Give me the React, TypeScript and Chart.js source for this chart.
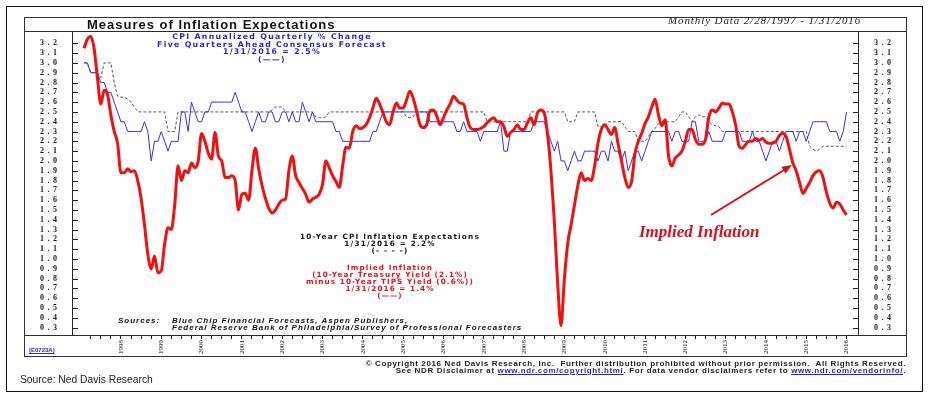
import React, { useEffect, useRef } from "react";
import { Chart, registerables } from "chart.js";

Chart.register(...registerables);

// Monthly observations, index 0 = 2/28/1997 ... index 227 = 1/31/2016
const START_LABEL = "2/28/1997";
const END_LABEL = "1/31/2016";

const yearLabels = [
  "1998", "1999", "2000", "2001", "2002", "2003", "2004", "2005", "2006", "2007",
  "2008", "2009", "2010", "2011", "2012", "2013", "2014", "2015", "2016",
];
const FIRST_JAN_INDEX = 11; // Jan 1998 in month index

const yTickLabels = [
  0.3, 0.4, 0.5, 0.6, 0.7, 0.8, 0.9, 1.0, 1.1, 1.2, 1.3, 1.4, 1.5, 1.6, 1.7,
  1.8, 1.9, 2.0, 2.1, 2.2, 2.3, 2.4, 2.5, 2.6, 2.7, 2.8, 2.9, 3.0, 3.1, 3.2,
];

// Implied inflation (10y Treasury minus 10y TIPS)
const impliedInflation = [
  3.15, 3.24, 3.27, 3.15, 2.85, 2.58, 2.72, 2.68, 2.47, 2.30,
  2.18, 1.88, 1.88, 1.92, 1.89, 1.90, 1.80, 1.62, 1.35, 1.05,
  0.90, 1.03, 0.86, 0.88, 1.15, 1.32, 1.30, 1.55, 1.95, 1.80,
  1.90, 1.88, 1.98, 1.93, 2.00, 2.28, 2.20, 2.08, 2.02, 2.29,
  2.05, 2.00, 1.83, 1.83, 1.85, 1.80, 1.50, 1.66, 1.67, 1.60,
  1.90, 2.13, 1.92, 1.75, 1.62, 1.52, 1.47, 1.50, 1.56, 1.60,
  1.61, 1.90, 2.05, 1.85, 1.78, 1.72, 1.66, 1.58, 1.61, 1.63,
  1.66, 1.76, 2.00, 1.93, 1.85, 1.79, 1.73, 1.95, 2.14, 2.13,
  2.30, 2.36, 2.33, 2.34, 2.37, 2.44, 2.54, 2.64, 2.58, 2.49,
  2.40, 2.37, 2.50, 2.59, 2.54, 2.54, 2.62, 2.71, 2.64, 2.51,
  2.37, 2.34, 2.37, 2.51, 2.52, 2.46, 2.37, 2.44, 2.52, 2.58,
  2.66, 2.62, 2.59, 2.58, 2.44, 2.34, 2.32, 2.32, 2.33, 2.35,
  2.39, 2.42, 2.44, 2.40, 2.40, 2.35, 2.25, 2.29, 2.32, 2.37,
  2.32, 2.32, 2.39, 2.44, 2.37, 2.49, 2.52, 2.49, 2.27, 1.90,
  1.39, 0.75, 0.32, 0.80, 1.16, 1.35, 1.55, 1.75, 1.88, 1.80,
  1.82, 1.80, 1.95, 2.18, 2.32, 2.37, 2.32, 2.27, 2.34, 2.17,
  2.00, 1.83, 1.73, 1.79, 2.07, 2.20, 2.28, 2.38, 2.45, 2.55,
  2.63, 2.47, 2.36, 2.42, 2.05, 1.95, 2.03, 2.06, 2.10, 2.20,
  2.32, 2.32, 2.22, 2.17, 2.17, 2.22, 2.45, 2.52, 2.50, 2.54,
  2.59, 2.58, 2.58, 2.50, 2.36, 2.15, 2.13, 2.17, 2.20, 2.20,
  2.23, 2.21, 2.23, 2.19, 2.18, 2.18, 2.20, 2.26, 2.28, 2.25,
  2.12, 1.98, 1.90, 1.78, 1.67, 1.72, 1.78, 1.85, 1.89, 1.90,
  1.83, 1.68, 1.57, 1.52, 1.58, 1.56, 1.50, 1.45,
];

// CPI annualized quarterly % change, five quarters ahead consensus forecast
const cpiForecast = [
  3.0, 3.0, 2.9, 2.9, 2.9, 2.8, 2.8, 2.7, 2.7, 2.6,
  2.5, 2.4, 2.4, 2.3, 2.3, 2.3, 2.3, 2.3, 2.4, 2.3,
  2.0, 2.2, 2.2, 2.3, 2.2, 2.1, 2.2, 2.2, 2.2, 2.5,
  2.5, 2.3, 2.6, 2.5, 2.4, 2.4, 2.5, 2.5, 2.6, 2.6,
  2.6, 2.6, 2.6, 2.6, 2.6, 2.7, 2.6, 2.5, 2.5, 2.4,
  2.3, 2.4, 2.5, 2.4, 2.4, 2.5, 2.5, 2.4, 2.4, 2.5,
  2.5, 2.4, 2.5, 2.4, 2.4, 2.6, 2.5, 2.4, 2.5, 2.4,
  2.4, 2.4, 2.4, 2.4, 2.4, 2.3, 2.3, 2.2, 2.2, 2.2,
  2.2, 2.2, 2.2, 2.2, 2.2, 2.2, 2.3, 2.3, 2.4, 2.5,
  2.5, 2.5, 2.5, 2.5, 2.5, 2.5, 2.5, 2.5, 2.5, 2.5,
  2.5, 2.5, 2.5, 2.4, 2.4, 2.4, 2.4, 2.4, 2.4, 2.4,
  2.4, 2.3, 2.3, 2.4, 2.3, 2.3, 2.3, 2.3, 2.2, 2.3,
  2.3, 2.3, 2.3, 2.3, 2.4, 2.1, 2.1, 2.3, 2.3, 2.3,
  2.3, 2.3, 2.3, 2.3, 2.4, 2.4, 2.4, 2.4, 2.3, 2.2,
  2.1, 2.2, 2.0, 2.0, 1.9, 2.0, 2.1, 2.0, 2.0, 2.1,
  2.1, 2.1, 2.1, 2.0, 2.1, 2.1, 2.0, 2.2, 2.1, 2.1,
  2.0, 2.1, 1.9, 2.0, 2.1, 2.1, 2.0, 2.1, 2.2, 2.3,
  2.3, 2.3, 2.3, 2.3, 2.3, 2.2, 2.3, 2.3, 2.2, 2.2,
  2.2, 2.4, 2.4, 2.2, 2.2, 2.2, 2.3, 2.2, 2.2, 2.2,
  2.2, 2.3, 2.3, 2.3, 2.3, 2.3, 2.2, 2.2, 2.2, 2.3,
  2.2, 2.2, 2.1, 2.0, 2.1, 2.2, 2.2, 2.1, 2.2, 2.3,
  2.3, 2.3, 2.2, 2.3, 2.3, 2.2, 2.3, 2.4, 2.4, 2.4,
  2.4, 2.4, 2.3, 2.3, 2.3, 2.2, 2.3, 2.5,
];

// 10-year CPI inflation expectations
const tenYearCpiExpect = [
  3.0, 3.0, 2.9, 2.9, 2.9, 2.85, 3.0, 3.0, 3.0, 2.8,
  2.66, 2.65, 2.65, 2.63, 2.6, 2.55, 2.5, 2.5, 2.5, 2.5,
  2.5, 2.5, 2.5, 2.5, 2.5, 2.3, 2.3, 2.3, 2.5, 2.5,
  2.5, 2.5, 2.5, 2.5, 2.5, 2.5, 2.5, 2.5, 2.5, 2.5,
  2.5, 2.5, 2.5, 2.5, 2.5, 2.5, 2.5, 2.5, 2.5, 2.5,
  2.5, 2.5, 2.5, 2.5, 2.5, 2.5, 2.52, 2.55, 2.55, 2.55,
  2.5, 2.5, 2.5, 2.5, 2.5, 2.5, 2.5, 2.5, 2.5, 2.45,
  2.44, 2.44, 2.45, 2.5, 2.5, 2.5, 2.5, 2.5, 2.5, 2.5,
  2.5, 2.5, 2.5, 2.5, 2.5, 2.5, 2.5, 2.5, 2.5, 2.5,
  2.5, 2.5, 2.5, 2.5, 2.5, 2.5, 2.45, 2.44, 2.45, 2.5,
  2.5, 2.5, 2.5, 2.5, 2.5, 2.5, 2.5, 2.5, 2.5, 2.5,
  2.5, 2.5, 2.5, 2.5, 2.5, 2.5, 2.5, 2.5, 2.5, 2.5,
  2.4, 2.4, 2.4, 2.4, 2.4, 2.4, 2.4, 2.4, 2.4, 2.4,
  2.4, 2.4, 2.4, 2.5, 2.5, 2.5, 2.5, 2.5, 2.5, 2.5,
  2.5, 2.5, 2.5, 2.5, 2.4, 2.4, 2.4, 2.5, 2.5, 2.5,
  2.5, 2.5, 2.5, 2.35, 2.35, 2.35, 2.4, 2.4, 2.4, 2.4,
  2.4, 2.35, 2.3, 2.3, 2.3, 2.2, 2.2, 2.2, 2.25, 2.3,
  2.33, 2.38, 2.4, 2.4, 2.4, 2.4, 2.4, 2.45, 2.5, 2.5,
  2.45, 2.4, 2.45, 2.47, 2.45, 2.45, 2.4, 2.37, 2.36, 2.35,
  2.3, 2.3, 2.3, 2.3, 2.3, 2.3, 2.3, 2.3, 2.3, 2.3,
  2.3, 2.3, 2.3, 2.3, 2.3, 2.3, 2.3, 2.3, 2.3, 2.3,
  2.3, 2.3, 2.3, 2.3, 2.3, 2.3, 2.15, 2.12, 2.1, 2.12,
  2.15, 2.15, 2.15, 2.15, 2.15, 2.15, 2.15, 2.15,
];

const X_MIN = -3.27;
const X_MAX = 230.4;
const Y_MIN = 0.225;
const Y_MAX = 3.315;

const SANS = '"Liberation Sans", Arial, sans-serif';
const WIDE = '"DejaVu Sans", Verdana, sans-serif';
const SERIF = '"Liberation Serif", "Times New Roman", serif';

const BLUE_TXT = "#2a1fd2";
const RED_TXT = "#e5101c";

const quarterTicks: number[] = [];
for (let i = 2; i <= 227; i += 3) quarterTicks.push(i);

const innerTicks = {
  id: "innerTicks",
  afterDraw(chart: any) {
    const { ctx, chartArea: a, scales } = chart;
    const ys = scales.y;
    ctx.save();
    ctx.strokeStyle = "#222";
    ctx.lineWidth = 1;
    ctx.beginPath();
    ys.ticks.forEach((t: any) => {
      const py = Math.round(ys.getPixelForValue(t.value)) + 0.5;
      ctx.moveTo(a.left, py);
      ctx.lineTo(a.left + 5, py);
      ctx.moveTo(a.right - 5, py);
      ctx.lineTo(a.right, py);
    });
    ctx.stroke();
    ctx.restore();
  },
};

function spacedLabels(s: any, spacing: string) {
  if (s.__spaced) return;
  s.__spaced = true;
  const orig = s.drawLabels.bind(s);
  s.drawLabels = (area: any) => {
    const ctx = s.ctx;
    const prev = ctx.letterSpacing;
    ctx.letterSpacing = spacing;
    orig(area);
    ctx.letterSpacing = prev || "0px";
  };
}

function Txt(props: { style: React.CSSProperties; children: React.ReactNode }) {
  return (
    <div style={{ position: "absolute", whiteSpace: "pre", ...props.style }}>
      {props.children}
    </div>
  );
}

function Line(props: { x: number; y: number; w: number; h: number; c?: string }) {
  return (
    <div
      style={{
        position: "absolute",
        left: props.x,
        top: props.y,
        width: props.w,
        height: props.h,
        background: props.c || "#2a2a2a",
      }}
    />
  );
}

export default function App() {
  const ref = useRef<HTMLCanvasElement>(null);

  useEffect(() => {
    if (!ref.current) return;
    const toPts = (arr: number[]) => arr.map((v, i) => ({ x: i, y: v }));
    const yAxisCommon = (position: "left" | "right", pad: number) => ({
      type: "linear" as const,
      position,
      min: Y_MIN,
      max: Y_MAX,
      bounds: "data" as const,
      afterBuildTicks: (s: any) => {
        s.ticks = yTickLabels.map((v) => ({ value: v }));
        spacedLabels(s, "3.5px");
      },
      afterFit: (s: any) => {
        s.width = 49;
      },
      grid: { display: false, drawTicks: false },
      border: { display: false },
      ticks: {
        autoSkip: false,
        padding: pad,
        color: "#1a1a1a",
        font: { family: SERIF, size: 8, weight: "bold" as const },
        callback: (v: any) => Number(v).toFixed(1),
      },
    });

    const chart = new Chart(ref.current, {
      type: "line",
      data: {
        datasets: [
          {
            label: "Implied Inflation",
            data: toPts(impliedInflation),
            borderColor: "#f01010",
            borderWidth: 3,
            pointRadius: 0,
            cubicInterpolationMode: "monotone",
            yAxisID: "y",
          },
          {
            label: "CPI Forecast",
            data: toPts(cpiForecast),
            borderColor: "#3a2ee0",
            borderWidth: 1,
            pointRadius: 0,
            tension: 0,
            yAxisID: "y",
          },
          {
            label: "10-Year CPI Inflation Expectations",
            data: toPts(tenYearCpiExpect),
            borderColor: "#555555",
            borderWidth: 1,
            borderDash: [3, 2],
            pointRadius: 0,
            tension: 0,
            yAxisID: "y",
          },
        ],
      },
      options: {
        animation: false,
        responsive: false,
        devicePixelRatio: 1,
        layout: { padding: { left: 24, right: 23, top: 32, bottom: 42 } },
        plugins: { legend: { display: false }, tooltip: { enabled: false } },
        scales: {
          x: {
            type: "linear",
            min: X_MIN,
            max: X_MAX,
            bounds: "data",
            afterBuildTicks: (s: any) => {
              s.ticks = quarterTicks.map((v) => ({ value: v }));
            },
            afterFit: (s: any) => {
              s.height = 21;
            },
            grid: { drawOnChartArea: false, drawTicks: true, tickLength: 4, color: "#222" },
            border: { display: false },
            ticks: {
              autoSkip: false,
              maxRotation: 90,
              minRotation: 90,
              padding: 1,
              color: "#111",
              font: { family: SERIF, size: 7 },
              callback: (v: any) => {
                const i = Number(v);
                if ((i - FIRST_JAN_INDEX) % 12 === 0) {
                  return yearLabels[(i - FIRST_JAN_INDEX) / 12] || "";
                }
                return "";
              },
            },
          },
          y: yAxisCommon("left", 12.5) as any,
          y2: yAxisCommon("right", 16) as any,
        },
      },
      plugins: [innerTicks],
    });
    return () => chart.destroy();
  }, []);

  const block = (size: number, color: string, ls: number): React.CSSProperties => ({
    fontFamily: WIDE,
    fontWeight: "bold",
    fontSize: size,
    color,
    letterSpacing: ls,
    textAlign: "center",
  });

  const srcStyle: React.CSSProperties = {
    fontFamily: SANS,
    fontWeight: "bold",
    fontStyle: "italic",
    fontSize: 8,
    lineHeight: "7px",
    letterSpacing: 1.0,
    color: "#111",
  };

  const footStyle: React.CSSProperties = {
    right: 24,
    fontFamily: SANS,
    fontWeight: "bold",
    fontSize: 8,
    lineHeight: "7px",
    letterSpacing: 0.63,
    color: "#222",
    textAlign: "right",
  };

  return (
    <div
      style={{
        position: "fixed",
        left: 0,
        top: 0,
        width: 930,
        height: 398,
        background: "#fff",
        overflow: "hidden",
      }}
    >
      <canvas
        ref={ref}
        width={930}
        height={398}
        style={{ position: "absolute", left: 0, top: 0, width: 930, height: 398 }}
      />
      {/* frames */}
      <div
        style={{
          position: "absolute",
          left: 6,
          top: 6,
          width: 917,
          height: 386,
          border: "1.5px solid #111",
          boxSizing: "border-box",
        }}
      />
      <div
        style={{
          position: "absolute",
          left: 24,
          top: 17,
          width: 883,
          height: 340,
          border: "1px solid #333",
          boxSizing: "border-box",
        }}
      />
      <Line x={24} y={31} w={883} h={1} />
      <Line x={24} y={335} w={883} h={1} />
      <Line x={72} y={31} w={1} h={305} />
      <Line x={858} y={31} w={1} h={305} />

      {/* title */}
      <Txt
        style={{
          left: 87,
          top: 18,
          fontFamily: SANS,
          fontWeight: "bold",
          fontSize: 13,
          lineHeight: "14px",
          letterSpacing: 1.0,
          color: "#111",
        }}
      >
        Measures of Inflation Expectations
      </Txt>
      <Txt
        style={{
          left: 668,
          top: 13,
          fontFamily: SERIF,
          fontStyle: "italic",
          fontSize: 11,
          lineHeight: "14px",
          letterSpacing: 0.9,
          color: "#222",
        }}
      >
        {`Monthly Data ${START_LABEL} - ${END_LABEL}`}
      </Txt>

      {/* blue annotation */}
      <Txt
        style={{
          ...block(7.8, BLUE_TXT, 1.3),
          left: 122,
          top: 33,
          width: 300,
          lineHeight: "7.5px",
        }}
      >
        {"CPI Annualized Quarterly % Change\nFive Quarters Ahead Consensus Forecast\n1/31/2016 = 2.5%\n(\u2014\u2014)"}
      </Txt>

      {/* black annotation */}
      <Txt
        style={{
          ...block(7.3, "#151515", 1.2),
          left: 240,
          top: 232.5,
          width: 300,
          lineHeight: "7px",
        }}
      >
        {"10-Year CPI Inflation Expectations\n1/31/2016 = 2.2%\n(- - - -)"}
      </Txt>

      {/* red annotation */}
      <Txt
        style={{
          ...block(7.3, RED_TXT, 1.05),
          left: 240,
          top: 263.8,
          width: 300,
          lineHeight: "7px",
        }}
      >
        {"Implied Inflation\n(10-Year Treasury Yield (2.1%)\nminus 10-Year TIPS Yield (0.6%))\n1/31/2016 = 1.4%\n(\u2014\u2014)"}
      </Txt>

      {/* sources */}
      <Txt style={{ ...srcStyle, left: 118, top: 316.5 }}>Sources:</Txt>
      <Txt style={{ ...srcStyle, left: 172, top: 316.5 }}>
        {"Blue Chip Financial Forecasts, Aspen Publishers,\nFederal Reserve Bank of Philadelphia/Survey of Professional Forecasters"}
      </Txt>

      {/* Implied Inflation callout */}
      <Txt
        style={{
          left: 639,
          top: 222,
          fontFamily: SERIF,
          fontWeight: "bold",
          fontStyle: "italic",
          fontSize: 17,
          lineHeight: "20px",
          color: "#d8101e",
        }}
      >
        Implied Inflation
      </Txt>
      <svg
        width={930}
        height={398}
        style={{ position: "absolute", left: 0, top: 0, pointerEvents: "none" }}
      >
        <line x1={711} y1={215} x2={785} y2={169.5} stroke="#d8101e" strokeWidth={2} />
        <polygon points="792,165 785.6,173.7 781.4,166.8" fill="#d8101e" />
      </svg>

      {/* footer */}
      <Txt
        style={{
          left: 29,
          top: 346,
          fontFamily: SANS,
          fontWeight: "bold",
          fontSize: 6,
          lineHeight: "8px",
          color: "#2a1fd2",
          textDecoration: "underline",
        }}
      >
        (E0723A)
      </Txt>
      <Txt style={{ ...footStyle, top: 359.5 }}>
        {"\u00a9 Copyright 2016 Ned Davis Research, Inc.  Further distribution prohibited without prior permission.  All Rights Reserved."}
      </Txt>
      <Txt style={{ ...footStyle, top: 366.5 }}>
        See NDR Disclaimer at{" "}
        <span style={{ color: "#2a1fd2", textDecoration: "underline" }}>
          www.ndr.com/copyright.html
        </span>
        . For data vendor disclaimers refer to{" "}
        <span style={{ color: "#2a1fd2", textDecoration: "underline" }}>
          www.ndr.com/vendorinfo/
        </span>
        .
      </Txt>
      <Txt
        style={{
          left: 20,
          top: 373,
          fontFamily: SANS,
          fontSize: 10.3,
          lineHeight: "14px",
          color: "#222",
        }}
      >
        Source: Ned Davis Research
      </Txt>
    </div>
  );
}
